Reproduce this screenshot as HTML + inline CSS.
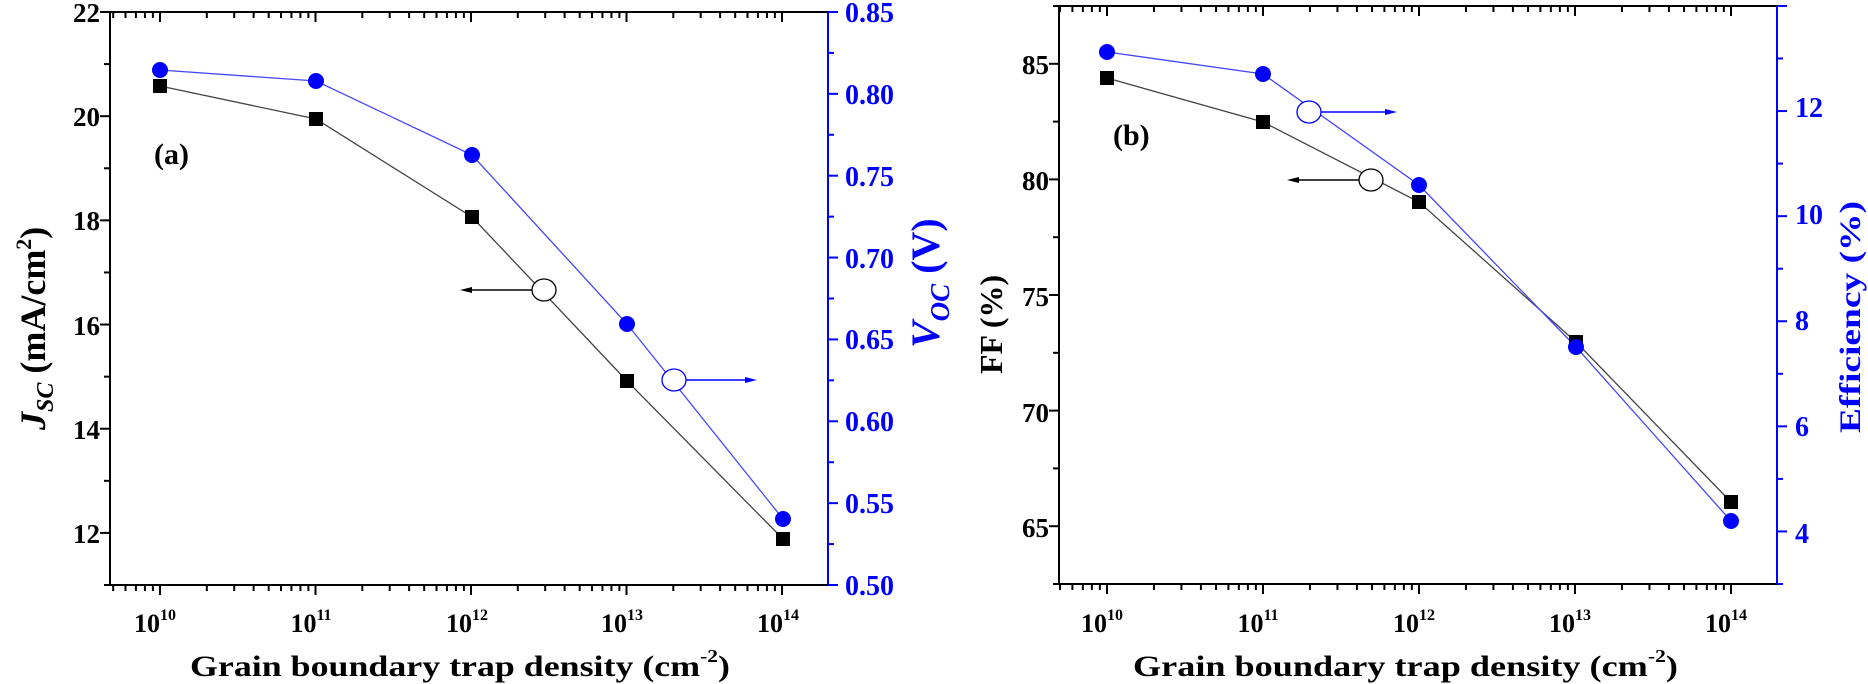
<!DOCTYPE html>
<html><head><meta charset="utf-8"><style>
html,body{margin:0;padding:0;background:#fff;}
svg{display:block;font-family:"Liberation Serif",serif;font-weight:bold;}
</style></head><body>
<svg id="s" width="1868" height="684" viewBox="0 0 1868 684" xmlns="http://www.w3.org/2000/svg">
<g id="ticks"></g>
<line x1="110" y1="12" x2="110" y2="585" stroke="#000" stroke-width="2"/>
<line x1="110" y1="12" x2="828" y2="12" stroke="#000" stroke-width="2"/>
<line x1="110" y1="585" x2="828" y2="585" stroke="#000" stroke-width="2"/>
<line x1="828" y1="12" x2="828" y2="585" stroke="#0000ff" stroke-width="2"/>
<line x1="1059" y1="6" x2="1059" y2="584" stroke="#000" stroke-width="2"/>
<line x1="1059" y1="6" x2="1777" y2="6" stroke="#000" stroke-width="2"/>
<line x1="1059" y1="584" x2="1777" y2="584" stroke="#000" stroke-width="2"/>
<line x1="1777" y1="6" x2="1777" y2="584" stroke="#0000ff" stroke-width="2"/>

<g font-size="27" text-anchor="end" fill="#000">
<text x="100" y="22">22</text><text x="100" y="126">20</text><text x="100" y="230">18</text>
<text x="100" y="335">16</text><text x="100" y="439">14</text><text x="100" y="543">12</text>
</g>
<g font-size="28" fill="#0000ff">
<text x="845" y="22">0.85</text><text x="845" y="104">0.80</text><text x="845" y="186">0.75</text>
<text x="845" y="268">0.70</text><text x="845" y="349">0.65</text><text x="845" y="431">0.60</text>
<text x="845" y="513">0.55</text><text x="845" y="595">0.50</text>
</g>
<g font-size="26" text-anchor="middle">
<text x="155" y="632">10<tspan font-size="16" dy="-12">10</tspan></text>
<text x="311" y="632">10<tspan font-size="16" dy="-12">11</tspan></text>
<text x="467" y="632">10<tspan font-size="16" dy="-12">12</tspan></text>
<text x="622" y="632">10<tspan font-size="16" dy="-12">13</tspan></text>
<text x="778" y="632">10<tspan font-size="16" dy="-12">14</tspan></text>
</g>
<text x="190" y="676" font-size="30" textLength="540" lengthAdjust="spacingAndGlyphs">Grain boundary trap density (cm<tspan font-size="18" dy="-14">-2</tspan><tspan dy="14">)</tspan></text>
<text transform="translate(45,430) rotate(-90)" font-size="36"><tspan font-style="italic">J</tspan><tspan font-style="italic" font-size="24" dy="8">SC</tspan><tspan dy="-8"> (mA/cm</tspan><tspan font-size="22" dy="-14">2</tspan><tspan dy="14">)</tspan></text>
<text transform="translate(939,348) rotate(-90)" font-size="40" fill="#0000ff"><tspan font-style="italic">V</tspan><tspan font-style="italic" font-size="27" dy="10">OC</tspan><tspan dy="-10"> (V)</tspan></text>
<text x="154" y="164" font-size="30">(a)</text>

<g font-size="27" text-anchor="end">
<text x="1049" y="74">85</text><text x="1049" y="190">80</text><text x="1049" y="306">75</text>
<text x="1049" y="422">70</text><text x="1049" y="537">65</text>
</g>
<g font-size="28" fill="#0000ff">
<text x="1795" y="117">12</text><text x="1795" y="224">10</text><text x="1795" y="330">8</text>
<text x="1795" y="436">6</text><text x="1795" y="543">4</text>
</g>
<g font-size="26" text-anchor="middle">
<text x="1102" y="632">10<tspan font-size="16" dy="-12">10</tspan></text>
<text x="1258" y="632">10<tspan font-size="16" dy="-12">11</tspan></text>
<text x="1414" y="632">10<tspan font-size="16" dy="-12">12</tspan></text>
<text x="1570" y="632">10<tspan font-size="16" dy="-12">13</tspan></text>
<text x="1726" y="632">10<tspan font-size="16" dy="-12">14</tspan></text>
</g>
<text x="1133" y="676" font-size="30" textLength="545" lengthAdjust="spacingAndGlyphs">Grain boundary trap density (cm<tspan font-size="18" dy="-14">-2</tspan><tspan dy="14">)</tspan></text>
<text transform="translate(1002,374) rotate(-90)" font-size="32">FF (%)</text>
<text transform="translate(1860,433) rotate(-90)" font-size="30" fill="#0000ff" textLength="232" lengthAdjust="spacingAndGlyphs">Efficiency (%)</text>
<text x="1113" y="145" font-size="30">(b)</text>

<polyline points="160,86 316,119 472,217 627,381 783,539" fill="none" stroke="#444" stroke-width="1.3"/>
<polyline points="160,70 316,81 472,155 627,324 783,519" fill="none" stroke="#4646ff" stroke-width="1.3"/>
<g fill="#000">
<rect x="153" y="79" width="14" height="14"/><rect x="309" y="112" width="14" height="14"/>
<rect x="465" y="210" width="14" height="14"/><rect x="620" y="374" width="14" height="14"/>
<rect x="776" y="532" width="14" height="14"/>
</g>
<g fill="#0000ff">
<circle cx="160" cy="70" r="8"/><circle cx="316" cy="81" r="8"/><circle cx="472" cy="155" r="8"/>
<circle cx="627" cy="324" r="8"/><circle cx="783" cy="519" r="8"/>
</g>
<line x1="532" y1="290" x2="466" y2="290" stroke="#000" stroke-width="1.5"/>
<polygon points="460,290 472,287 472,293" fill="#000"/>
<ellipse cx="544" cy="290" rx="12" ry="11" fill="#fff" stroke="#000" stroke-width="1.3"/>
<line x1="686" y1="380" x2="750" y2="380" stroke="#0000ff" stroke-width="1.5"/>
<polygon points="757,380 745,377 745,383" fill="#0000ff"/>
<ellipse cx="674" cy="380" rx="12" ry="11" fill="#fff" stroke="#0000ff" stroke-width="1.3"/>

<polyline points="1107,78 1263,122 1419,202 1576,342 1731,502" fill="none" stroke="#444" stroke-width="1.3"/>
<polyline points="1107,52 1263,74 1419,185 1576,347 1731,521" fill="none" stroke="#4646ff" stroke-width="1.3"/>
<g fill="#000">
<rect x="1100" y="71" width="14" height="14"/><rect x="1256" y="115" width="14" height="14"/>
<rect x="1412" y="195" width="14" height="14"/><rect x="1569" y="335" width="14" height="14"/>
<rect x="1724" y="495" width="14" height="14"/>
</g>
<g fill="#0000ff">
<circle cx="1107" cy="52" r="8"/><circle cx="1263" cy="74" r="8"/><circle cx="1419" cy="185" r="8"/>
<circle cx="1576" cy="347" r="8"/><circle cx="1731" cy="521" r="8"/>
</g>
<line x1="1321" y1="112" x2="1390" y2="112" stroke="#0000ff" stroke-width="1.5"/>
<polygon points="1397,112 1385,109 1385,115" fill="#0000ff"/>
<ellipse cx="1309" cy="112" rx="12" ry="11" fill="#fff" stroke="#0000ff" stroke-width="1.3"/>
<line x1="1359" y1="180" x2="1293" y2="180" stroke="#000" stroke-width="1.5"/>
<polygon points="1287,180 1299,177 1299,183" fill="#000"/>
<ellipse cx="1371" cy="180" rx="12" ry="11" fill="#fff" stroke="#000" stroke-width="1.3"/>
</svg>
<script>
(function(){
var g=document.getElementById('ticks'),NS='http://www.w3.org/2000/svg';
function L(x1,y1,x2,y2,c){var l=document.createElementNS(NS,'line');l.setAttribute('x1',x1);l.setAttribute('y1',y1);l.setAttribute('x2',x2);l.setAttribute('y2',y2);l.setAttribute('stroke',c);l.setAttribute('stroke-width','2');g.appendChild(l);}
function xt(x10,dec,Lx,R,T,B){
 for(var d=-1;d<=4;d++){for(var k=1;k<=9;k++){var x=x10+dec*(d+Math.log10(k));if(x<Lx-0.5||x>R+0.5)continue;var len=k==1?10:6;L(x,B,x,B+len,'#000');L(x,T,x,T+len,'#000');}}
}
xt(160,155.5,110,828,12,585);
xt(1107,156,1059,1777,6,584);
for(var v=11;v<=22;v++){var y=585-(v-11)*52.09;L(110,y,v%2==0?100:104,y,'#000');}
for(var i=0;i<=14;i++){var y=585-i*40.93;L(828,y,i%2==0?838:834,y,'#0000ff');}
for(var i=0;i<=10;i++){var v=62.5+i*2.5;var y=584-(v-62.5)*23.12;L(1059,y,(v%5==0)?1049:1053,y,'#000');}
for(var v=3;v<=14;v++){var y=584-(v-3)*52.55;L(1777,y,v%2==0?1787:1783,y,'#0000ff');}
})();
</script>
</body></html>
